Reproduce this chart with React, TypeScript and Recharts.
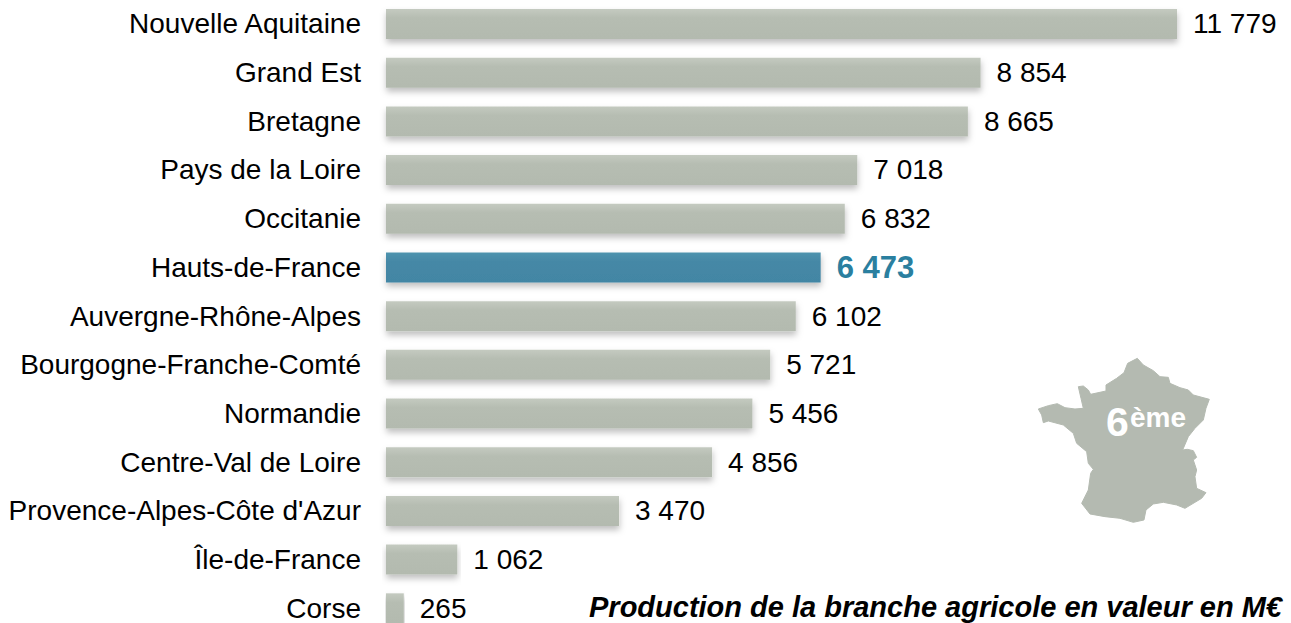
import { BarChart, Bar, XAxis, YAxis, Cell, LabelList } from "recharts";

const regions = [
  "Nouvelle Aquitaine",
  "Grand Est",
  "Bretagne",
  "Pays de la Loire",
  "Occitanie",
  "Hauts-de-France",
  "Auvergne-Rhône-Alpes",
  "Bourgogne-Franche-Comté",
  "Normandie",
  "Centre-Val de Loire",
  "Provence-Alpes-Côte d'Azur",
  "Île-de-France",
  "Corse",
];
const production = [11779, 8854, 8665, 7018, 6832, 6473, 6102, 5721, 5456, 4856, 3470, 1062, 265];
const highlighted = "Hauts-de-France";

const data = regions.map((region, i) => ({ region, value: production[i] }));

const font = '"Liberation Sans", Arial, sans-serif';
const franceOutline =
  "M175 207 L205 197 L232 191 L255 203 L285 207 L310 205 L303 175 L295 140 L310 138 L325 150 L332 163 L378 153 L378 135 L410 115 L432 98 L443 70 L472 55 L490 75 L520 92 L540 110 L565 112 L570 130 L600 143 L625 150 L640 165 L688 178 L678 205 L670 240 L645 265 L625 290 L608 330 L622 328 L640 332 L650 352 L640 360 L650 390 L645 410 L650 445 L678 458 L665 475 L615 505 L590 495 L550 487 L520 492 L498 510 L492 540 L460 547 L420 535 L375 530 L330 522 L305 490 L325 450 L332 400 L340 388 L325 370 L320 335 L290 310 L280 280 L250 255 L205 243 L190 248 L185 225 Z";

function formatValue(v: number) {
  return String(v).replace(/\B(?=(\d{3})+$)/g, " ");
}

function ValueLabel({ x, y, width, height, value, index }: any) {
  const isHighlight = regions[index] === highlighted;
  return (
    <text
      x={x + width + 16}
      y={y + height / 2 + 2}
      dominantBaseline="middle"
      fontFamily={font}
      fontSize={isHighlight ? 31 : 28}
      fontWeight={isHighlight ? 700 : 400}
      fill={isHighlight ? "#2A7F9F" : "#000"}
    >
      {formatValue(value)}
    </text>
  );
}

function RegionTick({ x, y, payload }: any) {
  return (
    <text x={x} y={y + 9} textAnchor="end" fontFamily={font} fontSize={28} fill="#000">
      {payload.value}
    </text>
  );
}

export default function App() {
  return (
    <div style={{ position: "absolute", left: 0, top: 0, width: 1291, height: 623, overflow: "hidden", background: "#fff" }}>
      <BarChart
        width={1291}
        height={633}
        data={data}
        layout="vertical"
        margin={{ top: 0, right: 114, bottom: 0, left: 0 }}
        barSize={30}
      >
        <defs>
          <linearGradient id="greyBar" x1="0" y1="0" x2="0" y2="1">
            <stop offset="0" stopColor="#C4CAC0" />
            <stop offset="0.3" stopColor="#B6BDB2" />
            <stop offset="1" stopColor="#B3BAAF" />
          </linearGradient>
          <linearGradient id="blueBar" x1="0" y1="0" x2="0" y2="1">
            <stop offset="0" stopColor="#4E93AE" />
            <stop offset="0.3" stopColor="#4588A6" />
            <stop offset="1" stopColor="#4386A4" />
          </linearGradient>
          <filter id="barShadow" x="-5%" y="-20%" width="110%" height="160%">
            <feDropShadow dx="0.5" dy="4" stdDeviation="3" floodColor="#000" floodOpacity="0.25" />
          </filter>
        </defs>
        <XAxis type="number" hide domain={[0, 11779]} />
        <YAxis
          type="category"
          dataKey="region"
          width={386}
          interval={0}
          axisLine={false}
          tickLine={false}
          tickSize={0}
          tickMargin={25}
          tick={RegionTick}
        />
        <Bar dataKey="value" isAnimationActive={false} style={{ filter: "url(#barShadow)" }}>
          {data.map((d) => (
            <Cell key={d.region} fill={d.region === highlighted ? "url(#blueBar)" : "url(#greyBar)"} />
          ))}
          <LabelList dataKey="value" content={ValueLabel} />
        </Bar>
      </BarChart>

      <svg width={1291} height={623} style={{ position: "absolute", left: 0, top: 0 }}>
        <g transform="translate(980 340) scale(0.3333)">
          <path d={franceOutline} fill="#B4BAB1" stroke="#B4BAB1" strokeWidth={3} strokeLinejoin="round" />
        </g>
        <text x={1106} y={436} fontFamily={font} fontWeight={700} fontSize={41} fill="#fff">6</text>
        <text x={1130} y={427} fontFamily={font} fontWeight={700} fontSize={28} fill="#fff">ème</text>
        <text x={589} y={617} fontFamily={font} fontWeight={700} fontStyle="italic" fontSize={29} fill="#000">
          Production de la branche agricole en valeur en M€
        </text>
      </svg>
    </div>
  );
}
